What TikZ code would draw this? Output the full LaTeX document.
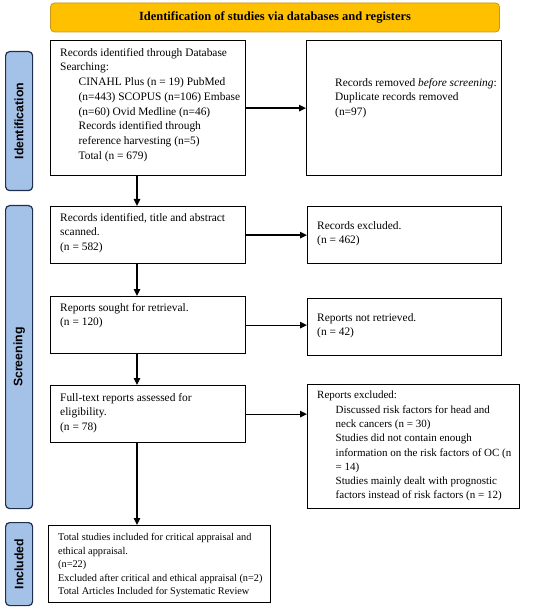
\documentclass[tikz,border=0pt]{standalone}
\usepackage{fontspec}
\setmainfont{Liberation Serif}
\setsansfont{Liberation Sans}
\usetikzlibrary{arrows.meta,calc}
\definecolor{titlefill}{HTML}{FFC000}
\definecolor{titledraw}{HTML}{C8961E}
\definecolor{sidefill}{HTML}{A4C2E8}
\definecolor{sidedraw}{HTML}{1F2F4F}
\tikzset{
  box/.style={draw=black, line width=1.3pt, fill=white, inner sep=0pt, anchor=north west},
  txt/.style={anchor=north west, align=left, inner sep=0pt, font=\fontsize{11.4}{14.7}\selectfont},
  side/.style={draw=sidedraw, fill=sidefill, line width=1.2pt, rounded corners=4pt, inner sep=0pt, anchor=north west},
  sidelabel/.style={rotate=90, font=\sffamily\bfseries\fontsize{12.3}{14}\selectfont},
  arr/.style={line width=1.3pt, -{Triangle[length=7pt,width=6.5pt]}},
}
\newcommand{\ind}{\hspace*{18.5pt}}
\begin{document}
\begin{tikzpicture}[x=1pt,y=-1pt]
\useasboundingbox (0,0) rectangle (550,609);
% title
\node[draw=titledraw, fill=titlefill, line width=0.8pt, rounded corners=4pt, minimum width=449pt, minimum height=29pt, inner sep=0pt, font=\bfseries\fontsize{12.5}{14}\selectfont] (title) at (275,17.5) {Identification of studies via databases and registers};
% side bars
\node[side, minimum width=27pt, minimum height=139pt] (sid) at (5,51) {};
\node[sidelabel] (sidl) at (sid.center) {Identification};
\node[side, minimum width=27pt, minimum height=303pt] (sscr) at (5,205) {};
\node[sidelabel] (sscrl) at (sscr.center) {Screening};
\node[side, minimum width=27pt, minimum height=83pt] (sinc) at (5,522) {};
\node[sidelabel] (sincl) at (sinc.center) {Included};
% boxes
\node[box, minimum width=195.5pt, minimum height=135pt] (b1) at (49.5,40) {};
\node[box, minimum width=195pt, minimum height=135pt] (r1) at (306,40) {};
\node[box, minimum width=195.5pt, minimum height=57pt] (b2) at (49.5,206) {};
\node[box, minimum width=194pt, minimum height=57pt] (r2) at (307,206) {};
\node[box, minimum width=195pt, minimum height=57pt] (b3) at (50,296) {};
\node[box, minimum width=194pt, minimum height=57pt] (r3) at (307,298) {};
\node[box, minimum width=195pt, minimum height=57pt] (b4) at (50,385) {};
\node[box, minimum width=212pt, minimum height=124pt] (r4) at (307,384) {};
\node[box, minimum width=222pt, minimum height=77pt] (b5) at (48,525) {};
% texts
\node[txt] (t1) at (60,48) {Records identified through Database\\Searching:\\
\ind CINAHL Plus (n = 19) PubMed\\
\ind (n=443) SCOPUS (n=106) Embase\\
\ind (n=60) Ovid Medline (n=46)\\
\ind Records identified through\\
\ind reference harvesting (n=5)\\
\ind Total (n = 679)};
\node[txt] (tr1) at (335,78) {Records removed \textit{before screening}:\\Duplicate records removed\\(n=97)};
\node[txt] (t2) at (60,213) {Records identified, title and abstract\\scanned.\\(n = 582)};
\node[txt] (tr2) at (317,221) {Records excluded.\\(n = 462)};
\node[txt] (t3) at (60,303) {Reports sought for retrieval.\\(n = 120)};
\node[txt] (tr3) at (317,313) {Reports not retrieved.\\(n = 42)};
\node[txt] (t4) at (60,393) {Full-text reports assessed for\\eligibility.\\(n = 78)};
\node[txt, font=\fontsize{11.0}{14.3}\selectfont] (tr4) at (317,391) {Reports excluded:\\
\ind Discussed risk factors for head and\\
\ind neck cancers (n = 30)\\
\ind Studies did not contain enough\\
\ind information on the risk factors of OC (n\\
\ind = 14)\\
\ind Studies mainly dealt with prognostic\\
\ind factors instead of risk factors (n = 12)};
\node[txt, font=\fontsize{10.3}{13.6}\selectfont] (t5) at (58,533) {Total studies included for critical appraisal and\\ethical appraisal.\\(n=22)\\Excluded after critical and ethical appraisal (n=2)\\Total Articles Included for Systematic Review};
% connectors
\coordinate (vx) at (137,0);
\draw[arr] (b1.east) -- (b1.east -| r1.west);
\draw[arr] (b2.east) -- (b2.east -| r2.west);
\draw[arr] (b3.east) -- (b3.east -| r3.west);
\draw[arr] (b4.east) -- (b4.east -| r4.west);
\draw[arr] (b1.south -| vx) -- (b2.north -| vx);
\draw[arr] (b2.south -| vx) -- (b3.north -| vx);
\draw[arr] (b3.south -| vx) -- (b4.north -| vx);
\draw[arr] (b4.south -| vx) -- (b5.north -| vx);
\end{tikzpicture}
\end{document}
